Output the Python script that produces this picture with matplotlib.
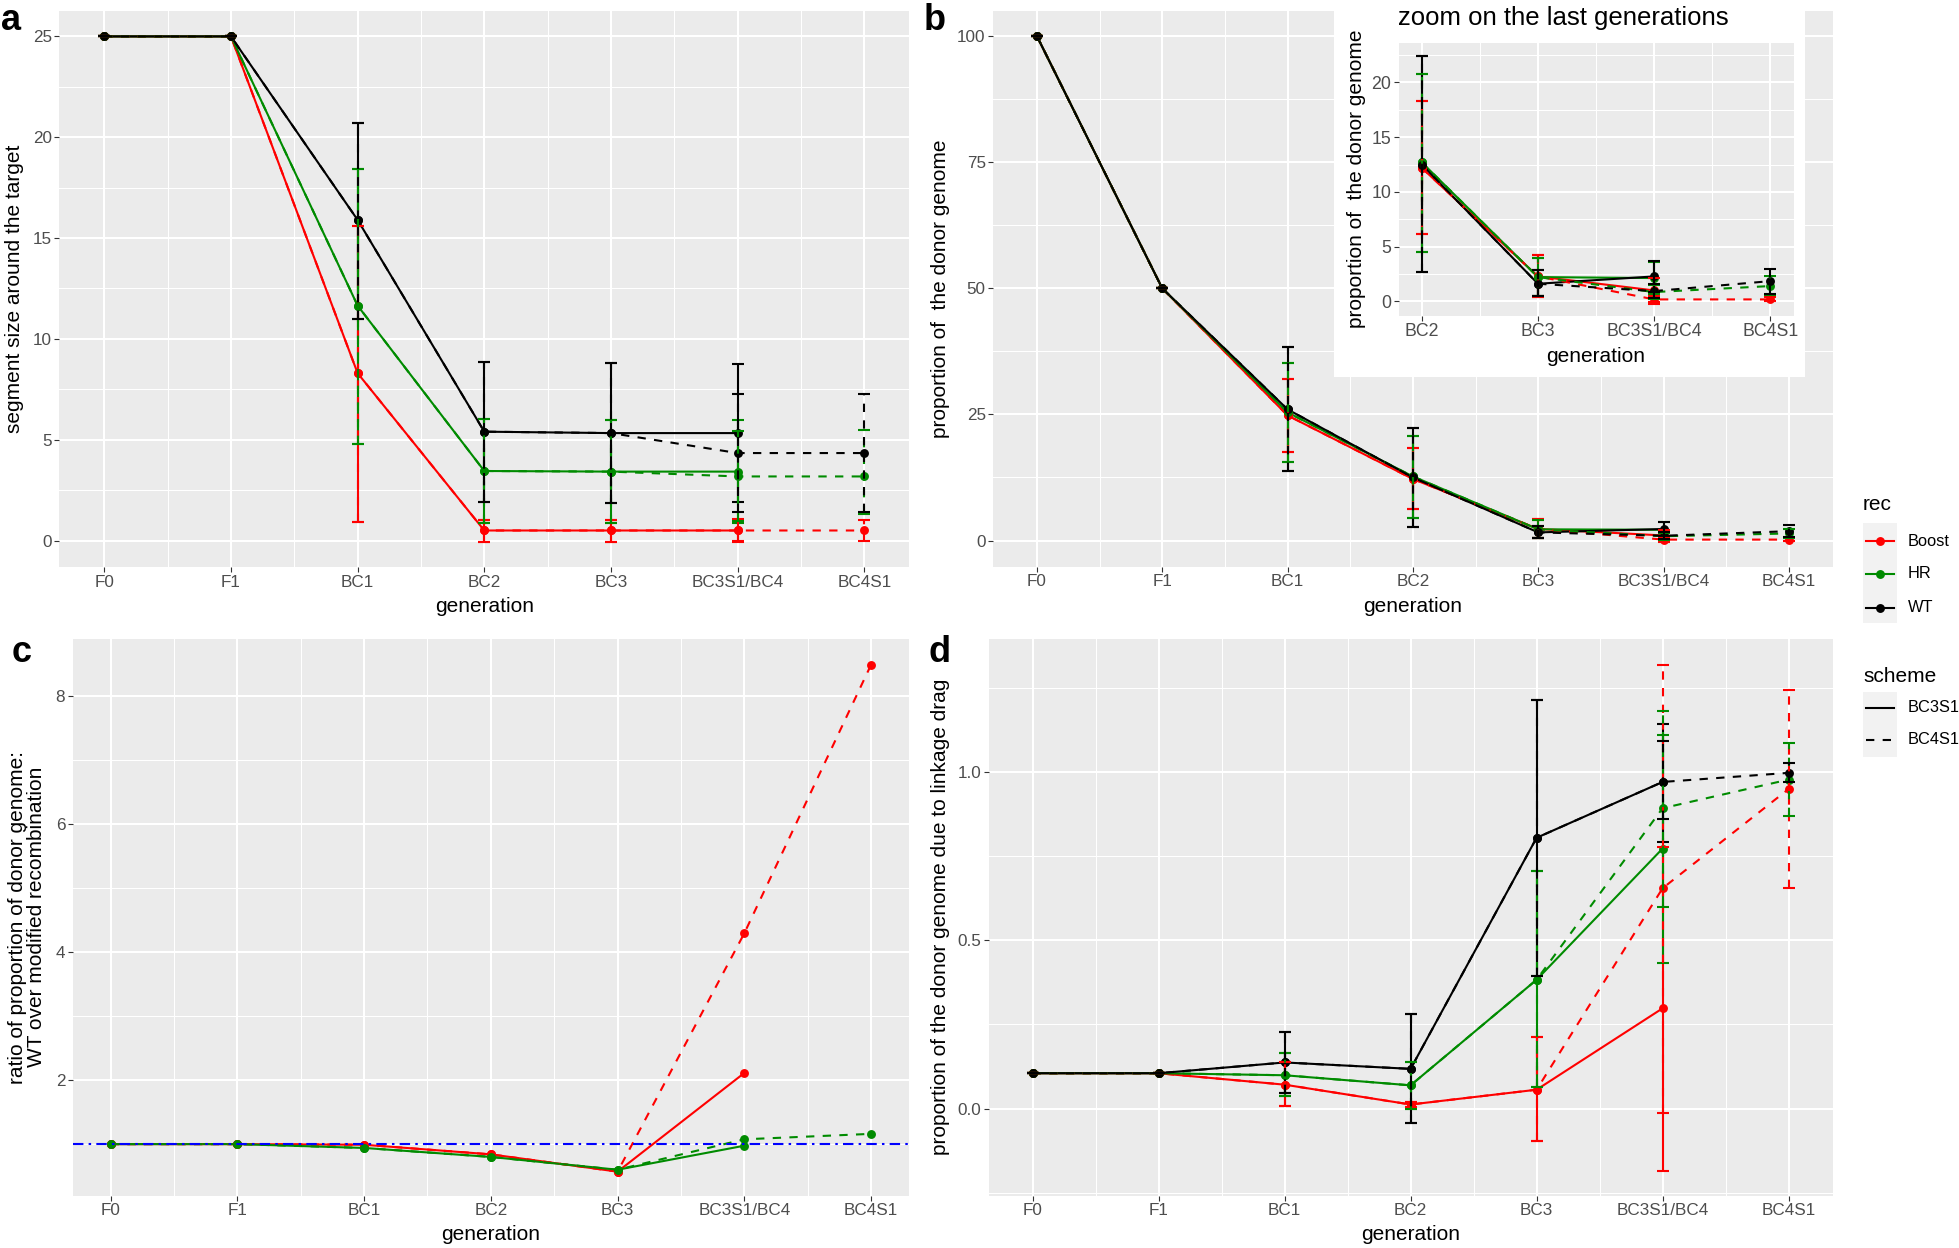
import numpy as np
import matplotlib
matplotlib.use('Agg')
import matplotlib.pyplot as plt
from matplotlib.lines import Line2D
from matplotlib.patches import Rectangle

plt.rcParams['font.family'] = ['Liberation Sans', 'DejaVu Sans']

W, H = 1959, 1248

# ---- data ----
generations = ['F0', 'F1', 'BC1', 'BC2', 'BC3', 'BC3S1/BC4', 'BC4S1']
recs = ['Boost', 'HR', 'WT']
colors = {'Boost': '#FF0000', 'HR': '#008B00', 'WT': '#000000'}
schemes = ['BC3S1', 'BC4S1']
x_scheme = {'BC3S1': [0, 1, 2, 3, 4, 5], 'BC4S1': [0, 1, 2, 3, 4, 5, 6]}

# a: segment size around the target
seg_mean = {
    'BC3S1': {'Boost': [25, 25, 8.3, 0.5, 0.5, 0.5],
              'HR':    [25, 25, 11.65, 3.45, 3.42, 3.42],
              'WT':    [25, 25, 15.9, 5.4, 5.33, 5.33]},
    'BC4S1': {'Boost': [25, 25, 8.3, 0.5, 0.5, 0.5, 0.5],
              'HR':    [25, 25, 11.65, 3.45, 3.42, 3.18, 3.18],
              'WT':    [25, 25, 15.9, 5.4, 5.33, 4.34, 4.34]}}
seg_lo = {
    'BC3S1': {'Boost': [25, 25, 0.9, -0.05, -0.05, -0.05],
              'HR':    [25, 25, 4.8, 0.85, 0.85, 0.87],
              'WT':    [25, 25, 11.0, 1.9, 1.88, 1.9]},
    'BC4S1': {'Boost': [25, 25, 0.9, -0.05, -0.05, -0.03, -0.03],
              'HR':    [25, 25, 4.8, 0.85, 0.85, 0.95, 1.3],
              'WT':    [25, 25, 11.0, 1.9, 1.88, 1.42, 1.42]}}
seg_hi = {
    'BC3S1': {'Boost': [25, 25, 15.6, 1.03, 1.03, 1.03],
              'HR':    [25, 25, 18.45, 6.05, 6.0, 6.0],
              'WT':    [25, 25, 20.7, 8.86, 8.8, 8.76]},
    'BC4S1': {'Boost': [25, 25, 15.6, 1.03, 1.03, 1.07, 1.02],
              'HR':    [25, 25, 18.45, 6.05, 6.0, 5.45, 5.5],
              'WT':    [25, 25, 20.7, 8.86, 8.8, 7.29, 7.29]}}

# b: proportion of the donor genome
don_mean = {
    'BC3S1': {'Boost': [100, 50, 24.8, 12.2, 2.28, 1.0],
              'HR':    [100, 50, 25.4, 12.7, 2.22, 2.13],
              'WT':    [100, 50, 26.0, 12.5, 1.61, 2.28]},
    'BC4S1': {'Boost': [100, 50, 24.8, 12.2, 2.28, 0.18, 0.18],
              'HR':    [100, 50, 25.4, 12.7, 2.22, 0.85, 1.4],
              'WT':    [100, 50, 26.0, 12.5, 1.61, 0.94, 1.85]}}
don_lo = {
    'BC3S1': {'Boost': [100, 50, 17.6, 6.2, 0.4, -0.1],
              'HR':    [100, 50, 15.6, 4.5, 0.52, 0.7],
              'WT':    [100, 50, 13.7, 2.7, 0.5, 0.9]},
    'BC4S1': {'Boost': [100, 50, 17.6, 6.2, 0.4, -0.2, 0.0],
              'HR':    [100, 50, 15.6, 4.5, 0.52, 0.2, 0.55],
              'WT':    [100, 50, 13.7, 2.7, 0.5, 0.3, 0.7]}}
don_hi = {
    'BC3S1': {'Boost': [100, 50, 32.05, 18.3, 4.26, 2.15],
              'HR':    [100, 50, 35.2, 20.8, 3.98, 3.6],
              'WT':    [100, 50, 38.3, 22.4, 2.89, 3.65]},
    'BC4S1': {'Boost': [100, 50, 32.05, 18.3, 4.26, 0.45, 0.4],
              'HR':    [100, 50, 35.2, 20.8, 3.98, 1.5, 2.3],
              'WT':    [100, 50, 38.3, 22.4, 2.89, 1.6, 2.98]}}

# c: ratio WT / modified recombination
ratio_recs = ['Boost', 'HR']
ratio = {
    'BC3S1': {'Boost': [1.0, 1.0, 0.99, 0.84, 0.57, 2.11],
              'HR':    [1.0, 1.0, 0.94, 0.80, 0.60, 0.975]},
    'BC4S1': {'Boost': [1.0, 1.0, 0.99, 0.84, 0.57, 4.29, 8.48],
              'HR':    [1.0, 1.0, 0.94, 0.80, 0.60, 1.075, 1.16]}}

# d: proportion of the donor genome due to linkage drag
drag_mean = {
    'BC3S1': {'Boost': [0.105, 0.105, 0.071, 0.012, 0.056, 0.298],
              'HR':    [0.105, 0.105, 0.099, 0.069, 0.383, 0.773],
              'WT':    [0.105, 0.105, 0.137, 0.118, 0.805, 0.971]},
    'BC4S1': {'Boost': [0.105, 0.105, 0.071, 0.012, 0.056, 0.655, 0.95],
              'HR':    [0.105, 0.105, 0.099, 0.069, 0.383, 0.893, 0.978],
              'WT':    [0.105, 0.105, 0.137, 0.118, 0.805, 0.971, 0.998]}}
drag_lo = {
    'BC3S1': {'Boost': [0.105, 0.105, 0.008, 0.006, -0.095, -0.185],
              'HR':    [0.105, 0.105, 0.038, 0.0, 0.065, 0.433],
              'WT':    [0.105, 0.105, 0.045, -0.044, 0.395, 0.793]},
    'BC4S1': {'Boost': [0.105, 0.105, 0.008, 0.006, -0.095, -0.012, 0.657],
              'HR':    [0.105, 0.105, 0.038, 0.0, 0.065, 0.6, 0.87],
              'WT':    [0.105, 0.105, 0.045, -0.044, 0.395, 0.86, 0.97]}}
drag_hi = {
    'BC3S1': {'Boost': [0.105, 0.105, 0.137, 0.018, 0.212, 0.777],
              'HR':    [0.105, 0.105, 0.164, 0.139, 0.705, 1.11],
              'WT':    [0.105, 0.105, 0.229, 0.281, 1.214, 1.143]},
    'BC4S1': {'Boost': [0.105, 0.105, 0.137, 0.018, 0.212, 1.32, 1.243],
              'HR':    [0.105, 0.105, 0.164, 0.139, 0.705, 1.183, 1.088],
              'WT':    [0.105, 0.105, 0.229, 0.281, 1.214, 1.092, 1.028]}}

# ---- style ----
LW = 1.5
MS = 6.4
DASH = (0, (4, 4))
ls_scheme = {'BC3S1': '-', 'BC4S1': DASH}
TICK_FS = 12.3
TITLE_FS = 15

fig = plt.figure(figsize=(W / 100, H / 100), dpi=100)


def axes_px(l, t, r, b):
    return fig.add_axes([l / W, 1 - b / H, (r - l) / W, (b - t) / H])


def ftext(x, y, s, **kw):
    fig.text(x / W, 1 - y / H, s, **kw)


def style(ax, xlabels, xlim, ylim, yticks, yminor, ylabels=None, fs=TICK_FS):
    ax.set_facecolor('#EBEBEB')
    for sp in ax.spines.values():
        sp.set_visible(False)
    ax.set_xlim(*xlim)
    ax.set_ylim(*ylim)
    ax.set_xticks(range(len(xlabels)))
    ax.set_xticklabels(xlabels)
    ax.set_xticks(np.arange(0.5, len(xlabels) - 1, 1), minor=True)
    ax.set_yticks(yticks)
    if ylabels is not None:
        ax.set_yticklabels(ylabels)
    ax.set_yticks(yminor, minor=True)
    ax.grid(which='major', color='white', lw=1.45)
    ax.grid(which='minor', color='white', lw=0.72)
    ax.set_axisbelow(True)
    ax.tick_params(which='major', length=3.3, width=0.8, color='#333333',
                   labelcolor='#4D4D4D', labelsize=fs, pad=2)
    ax.tick_params(which='minor', length=0)


def draw(ax, mean, lo=None, hi=None, rec_list=recs, start=0):
    # lines, then points, then error bars
    for sch in schemes:
        for r in rec_list:
            xs = np.array(x_scheme[sch][start:]) - start
            ax.plot(xs, mean[sch][r][start:], color=colors[r], lw=LW,
                    ls=ls_scheme[sch], zorder=3)
    for sch in schemes:
        for r in rec_list:
            xs = np.array(x_scheme[sch][start:]) - start
            ax.plot(xs, mean[sch][r][start:], 'o', color=colors[r], ms=MS,
                    mew=0, zorder=4)
    if lo is None:
        return
    for sch in schemes:
        for r in rec_list:
            xs = np.array(x_scheme[sch][start:]) - start
            m = np.array(mean[sch][r][start:])
            yerr = [m - np.array(lo[sch][r][start:]),
                    np.array(hi[sch][r][start:]) - m]
            eb = ax.errorbar(xs, m, yerr=yerr, fmt='none', ecolor=colors[r],
                             elinewidth=LW, capsize=4.4, capthick=LW, zorder=5)
            if sch == 'BC4S1':
                eb[2][0].set_linestyle(DASH)


# panel a
ax_a = axes_px(59.3, 11, 909.3, 567.4)
style(ax_a, generations, (-0.355, 6.355), (-1.33, 26.26),
      [0, 5, 10, 15, 20, 25], np.arange(2.5, 25, 5))
draw(ax_a, seg_mean, seg_lo, seg_hi)

# panel b
ax_b = axes_px(993, 11, 1832.7, 567)
style(ax_b, generations, (-0.35, 6.35), (-5.25, 104.96),
      [0, 25, 50, 75, 100], [12.5, 37.5, 62.5, 87.5])
draw(ax_b, don_mean, don_lo, don_hi)

# inset of b (white box behind it)
fig.add_artist(Rectangle((1334 / W, 1 - 377 / H), (1805 - 1334) / W, 377 / H,
                         transform=fig.transFigure, facecolor='white',
                         edgecolor='none', zorder=1))
ax_in = axes_px(1398.5, 42.7, 1793.6, 315.5)
ax_in.set_zorder(2)
style(ax_in, generations[3:], (-0.2, 3.2), (-1.29, 23.63),
      [0, 5, 10, 15, 20], np.arange(2.5, 23, 5), fs=12.8)
draw(ax_in, don_mean, don_lo, don_hi, start=3)

# panel c
ax_c = axes_px(72.7, 639.3, 909, 1196)
style(ax_c, generations, (-0.3, 6.3), (0.19, 8.88),
      [2, 4, 6, 8], [1, 3, 5, 7])
draw(ax_c, ratio, rec_list=ratio_recs)
ax_c.axhline(1, color='#0000FF', lw=LW, ls=(0, (5, 2.5, 1.2, 2.5)), zorder=6)

# panel d
ax_d = axes_px(988.5, 639, 1832.7, 1196)
style(ax_d, generations, (-0.35, 6.35), (-0.26, 1.396),
      [0, 0.5, 1.0], [-0.25, 0.25, 0.75, 1.25], ylabels=['0.0', '0.5', '1.0'])
draw(ax_d, drag_mean, drag_lo, drag_hi)

# axis titles
ftext(15, 289, 'segment size around the target', rotation=90,
      ha='center', va='center', fontsize=TITLE_FS)
ftext(940, 289, 'proportion of  the donor genome', rotation=90,
      ha='center', va='center', fontsize=TITLE_FS)
ftext(27, 917, 'ratio of proportion of donor genome:\nWT over modified recombination',
      rotation=90, ha='center', va='center', fontsize=TITLE_FS,
      multialignment='center', linespacing=1.0)
ftext(940, 917, 'proportion of the donor genome due to linkage drag', rotation=90,
      ha='center', va='center', fontsize=TITLE_FS)
for cx, cy in [(484.3, 607), (1413, 607), (491, 1235), (1410.6, 1235)]:
    ftext(cx, cy, 'generation', ha='center', va='center', fontsize=TITLE_FS)

# inset titles
ftext(1356, 179, 'proportion of  the donor genome', rotation=90,
      ha='center', va='center', fontsize=TITLE_FS)
ftext(1596, 356, 'generation', ha='center', va='center', fontsize=TITLE_FS)
ftext(1398, 18, 'zoom on the last generations', ha='left', va='center',
      fontsize=18.5)

# panel letters
for lx, ly, s in [(1, 30, 'a'), (924, 30, 'b'), (12, 662, 'c'), (928, 662, 'd')]:
    ftext(lx, ly, s, ha='left', va='baseline', fontsize=26, fontweight='bold')

# legends
def key_bg(y0, y1):
    fig.add_artist(Rectangle((1863 / W, 1 - y1 / H), 34 / W, (y1 - y0) / H,
                             transform=fig.transFigure, facecolor='#F2F2F2',
                             edgecolor='none'))


ftext(1863, 505, 'rec', ha='left', va='center', fontsize=TITLE_FS)
key_bg(523, 623)
for r, ky in zip(recs, [541, 574, 608]):
    fig.add_artist(Line2D([1866 / W, 1894 / W], [1 - ky / H] * 2,
                          transform=fig.transFigure, color=colors[r], lw=LW))
    fig.add_artist(Line2D([1880 / W], [1 - ky / H], transform=fig.transFigure,
                          marker='o', ms=MS, mew=0, color=colors[r]))
    ftext(1908, ky, r, ha='left', va='center', fontsize=11.8)

ftext(1863, 677, 'scheme', ha='left', va='center', fontsize=TITLE_FS)
key_bg(692, 757)
for sch, ky in zip(schemes, [708, 740]):
    fig.add_artist(Line2D([1866 / W, 1894 / W], [1 - ky / H] * 2,
                          transform=fig.transFigure, color='black', lw=LW,
                          ls=ls_scheme[sch]))
    ftext(1908, ky, sch, ha='left', va='center', fontsize=11.8)

fig.savefig('out.png', dpi=100)
